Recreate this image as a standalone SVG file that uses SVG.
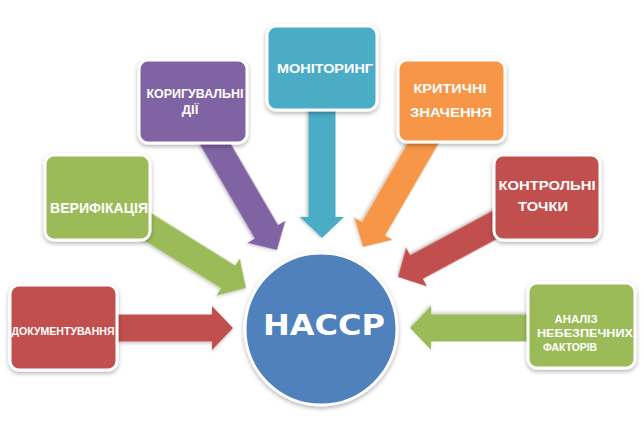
<svg xmlns="http://www.w3.org/2000/svg" xmlns:xlink="http://www.w3.org/1999/xlink" width="644" height="430" viewBox="0 0 644 430">
<style>
.box{stroke:#ffffff;stroke-width:3;filter:url(#sh)}
.lbl{font-family:"Liberation Sans",Arial,sans-serif;font-weight:bold;fill:#ffffff;text-anchor:middle}
.arr{filter:url(#sh2)}
</style>
<defs>
<filter id="sh" x="-20%" y="-20%" width="140%" height="150%">
<feDropShadow dx="0" dy="2" stdDeviation="2" flood-color="#000" flood-opacity="0.3"/>
</filter>
<filter id="sh2" x="-20%" y="-20%" width="140%" height="150%">
<feDropShadow dx="0" dy="2" stdDeviation="1.5" flood-color="#000" flood-opacity="0.2"/>
</filter>
<path id="arr" d="M-130,-13.5 H-21 V-22 L0,0 L-21,22 V13.5 H-130 Z"/>
</defs>
<rect width="644" height="430" fill="#ffffff"/>
<g id="connectors">
<use xlink:href="#arr" class="arr" fill="#c0504d" transform="translate(233,328) rotate(0)"/>
<use xlink:href="#arr" class="arr" fill="#9bbb59" transform="translate(246,288) rotate(31.9)"/>
<use xlink:href="#arr" class="arr" fill="#8064a2" transform="translate(277,250) rotate(59.8)"/>
<use xlink:href="#arr" class="arr" fill="#4bacc6" transform="translate(322,238) rotate(90)"/>
<use xlink:href="#arr" class="arr" fill="#f79646" transform="translate(363,247) rotate(120.1)"/>
<use xlink:href="#arr" class="arr" fill="#c0504d" transform="translate(398,277) rotate(151.7)"/>
<use xlink:href="#arr" class="arr" fill="#9bbb59" transform="translate(410,328) rotate(180)"/>
</g>
<g id="node-doc">
<rect class="box" x="10" y="285" width="107" height="85" rx="9" fill="#c0504d"/>
<text class="lbl" x="63" y="335" font-size="11.5" textLength="103" lengthAdjust="spacingAndGlyphs">ДОКУМЕНТУВАННЯ</text>
</g>
<g id="node-verif">
<rect class="box" x="45" y="155" width="105" height="85" rx="9" fill="#9bbb59"/>
<text class="lbl" x="99" y="213" font-size="14" textLength="98" lengthAdjust="spacingAndGlyphs">ВЕРИФІКАЦІЯ</text>
</g>
<g id="node-korig">
<rect class="box" x="139" y="60" width="108" height="83" rx="9" fill="#8064a2"/>
<text class="lbl" x="195" y="98" font-size="13" textLength="97" lengthAdjust="spacingAndGlyphs">КОРИГУВАЛЬНІ</text>
<text class="lbl" x="190" y="114" font-size="13">ДІЇ</text>
</g>
<g id="node-monit">
<rect class="box" x="267" y="26" width="110" height="84" rx="9" fill="#4bacc6"/>
<text class="lbl" x="325" y="73" font-size="13.5" textLength="96" lengthAdjust="spacingAndGlyphs">МОНІТОРИНГ</text>
</g>
<g id="node-krit">
<rect class="box" x="398" y="60" width="107" height="82" rx="9" fill="#f79646"/>
<text class="lbl" x="450" y="93" font-size="13" textLength="73" lengthAdjust="spacingAndGlyphs">КРИТИЧНІ</text>
<text class="lbl" x="451" y="117" font-size="13" textLength="82" lengthAdjust="spacingAndGlyphs">ЗНАЧЕННЯ</text>
</g>
<g id="node-kontr">
<rect class="box" x="494" y="155" width="106" height="85" rx="9" fill="#c0504d"/>
<text class="lbl" x="547" y="190" font-size="13.5" textLength="97" lengthAdjust="spacingAndGlyphs">КОНТРОЛЬНІ</text>
<text class="lbl" x="543" y="211" font-size="13.5" textLength="50" lengthAdjust="spacingAndGlyphs">ТОЧКИ</text>
</g>
<g id="node-analiz">
<rect class="box" x="528" y="283" width="107" height="85" rx="9" fill="#9bbb59"/>
<text class="lbl" x="576" y="323" font-size="11.5" textLength="43" lengthAdjust="spacingAndGlyphs">АНАЛІЗ</text>
<text class="lbl" x="585" y="337" font-size="11.5" textLength="96" lengthAdjust="spacingAndGlyphs">НЕБЕЗПЕЧНИХ</text>
<text class="lbl" x="570" y="351" font-size="11.5" textLength="54" lengthAdjust="spacingAndGlyphs">ФАКТОРІВ</text>
</g>
<g id="node-haccp">
<circle cx="321" cy="329" r="76" fill="#4f81bd" stroke="#ffffff" stroke-width="3" filter="url(#sh)"/>
<text x="324" y="335" font-family="DejaVu Sans, sans-serif" font-weight="bold" font-size="28" fill="#ffffff" text-anchor="middle" textLength="122" lengthAdjust="spacingAndGlyphs">HACCP</text>
</g>
</svg>
